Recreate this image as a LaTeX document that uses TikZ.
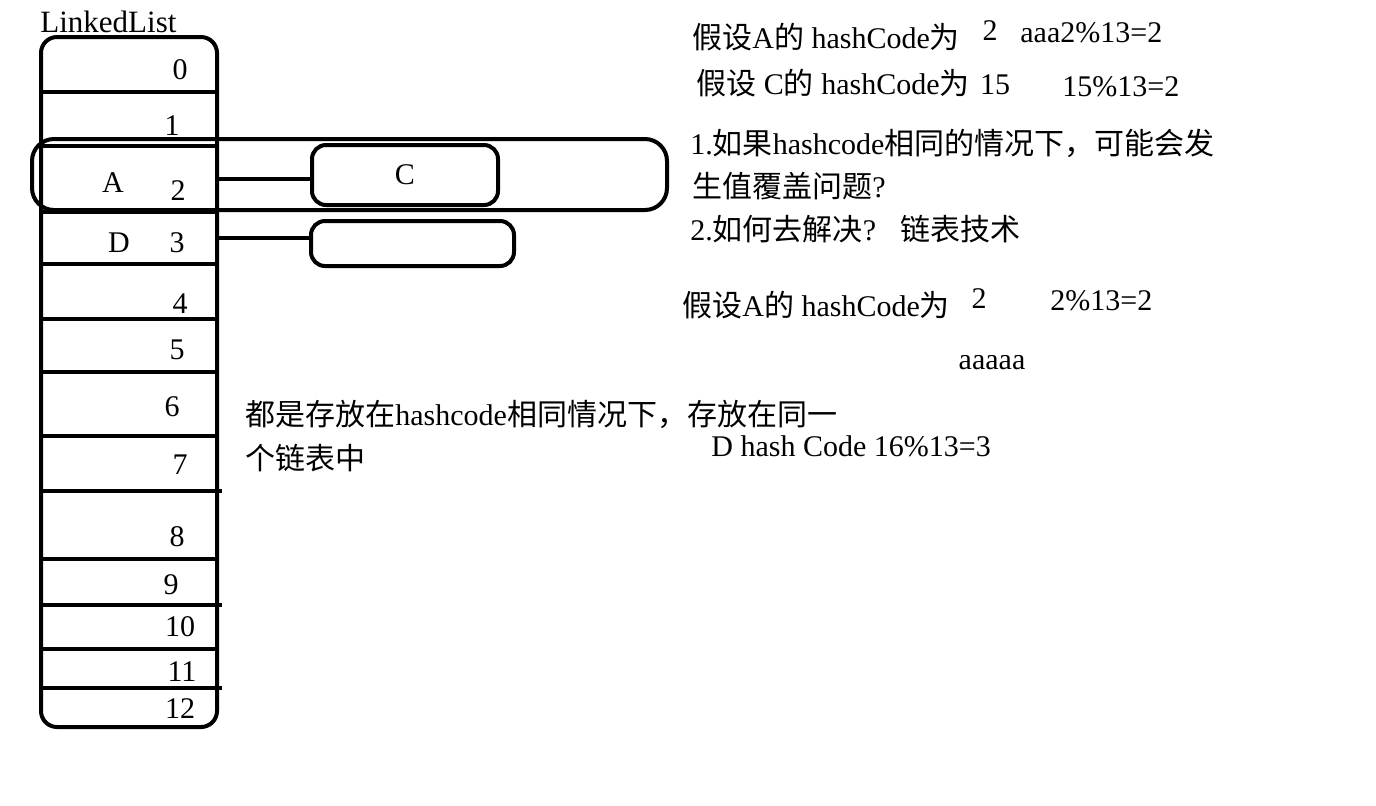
\documentclass[tikz,border=0pt]{standalone}
\usepackage{fontspec}
\setmainfont{Liberation Serif}
\newfontfamily\cjk{Noto Sans CJK SC}
\usetikzlibrary{positioning,calc}

\tikzset{
  thickline/.style={line width=2pt},
  txt/.style={inner sep=0pt, anchor=west, font=\fontsize{15}{18}\selectfont},
  num/.style={inner sep=0pt, font=\fontsize{15}{18}\selectfont},
  chainbox/.style={draw, line width=2pt, rounded corners=7pt, inner sep=0pt,
    font=\fontsize{15}{18}\selectfont}
}

\begin{document}
\begin{tikzpicture}[x=0.5pt,y=-0.5pt]
            \useasboundingbox (0,0) rectangle (1376,805);
            % Table of buckets
            \node[txt, font=\fontsize{15.5}{18}\selectfont] (title) at (40,22) {LinkedList};
            \draw[thickline, rounded corners=8pt] (41,37) rectangle (217,727);
            \foreach \y in {92,146,212,264,319,372,436,559,649}
                \draw[thickline] (41,\y) -- (217,\y);
            \foreach \y in {491,605,688}
                \draw[thickline] (41,\y) -- (222,\y);
            
            % Bucket indices
            \foreach \n/\x/\y in {0/180/70, 1/172/126, 2/178/191, 3/177/243, 4/180/304,
                5/177/350, 6/172/407, 7/180/465, 8/177/537, 9/171/585, 10/180/627,
                11/182/672, 12/180/709}
                \node[num] (idx\n) at (\x,\y) {\n};
            \node[num] (keyA) at (113,183) {A};
            \node[num] (keyD) at (119,243) {D};
            
            % Same bucket
            \draw[thickline, rounded corners=11pt] (32,139) rectangle (667,210);
            
            % Chain nodes
            \node[chainbox, minimum width=93pt, minimum height=30pt] (cbox) at (405,175) {C};
            \node[chainbox, minimum width=101.5pt, minimum height=22.5pt] (dbox) at (412.5,243.5) {};
            \coordinate (r2) at (217,179);
            \coordinate (r3) at (217,238);
            \draw[thickline] (r2) -- (r2 -| cbox.west);
            \draw[thickline] (r3) -- (r3 -| dbox.west);
            
            % Notes
            \node[txt] (noteA) at (692,37) {{\cjk 假设}A{\cjk 的} hashCode{\cjk 为}};
            \node[num] (valA) at (990,31) {2};
            \node[txt] (modA) at (1020,33) {aaa2\%13=2};
            \node[txt] (noteC) at (696,83) {{\cjk 假设} C{\cjk 的} hashCode{\cjk 为}};
            \node[num] (valC) at (995,85) {15};
            \node[txt] (modC) at (1062,87) {15\%13=2};
            \node[txt] (ask1) at (690,143) {1.{\cjk 如果}hashcode{\cjk 相同的情况下，可能会发}};
            \node[txt] (ask1b) at (692,186) {{\cjk 生值覆盖问题}?};
            \node[txt] (ask2) at (690,229) {2.{\cjk 如何去解决}?\hspace{12pt}{\cjk 链表技术}};
            \node[txt] (noteA2) at (682,305) {{\cjk 假设}A{\cjk 的} hashCode{\cjk 为}};
            \node[num] (valA2) at (979,299) {2};
            \node[txt] (modA2) at (1050,301) {2\%13=2};
            \node[num] (filler) at (992,363) {aaaaa};
            \node[txt] (same) at (245,414) {{\cjk 都是存放在}hashcode{\cjk 相同情况下，存放在同一}};
            \node[txt] (sameb) at (245,458) {{\cjk 个链表中}};
            \node[txt] (modD) at (711,446) {D hash Code 16\%13=3};
        \end{tikzpicture}
\end{document}
